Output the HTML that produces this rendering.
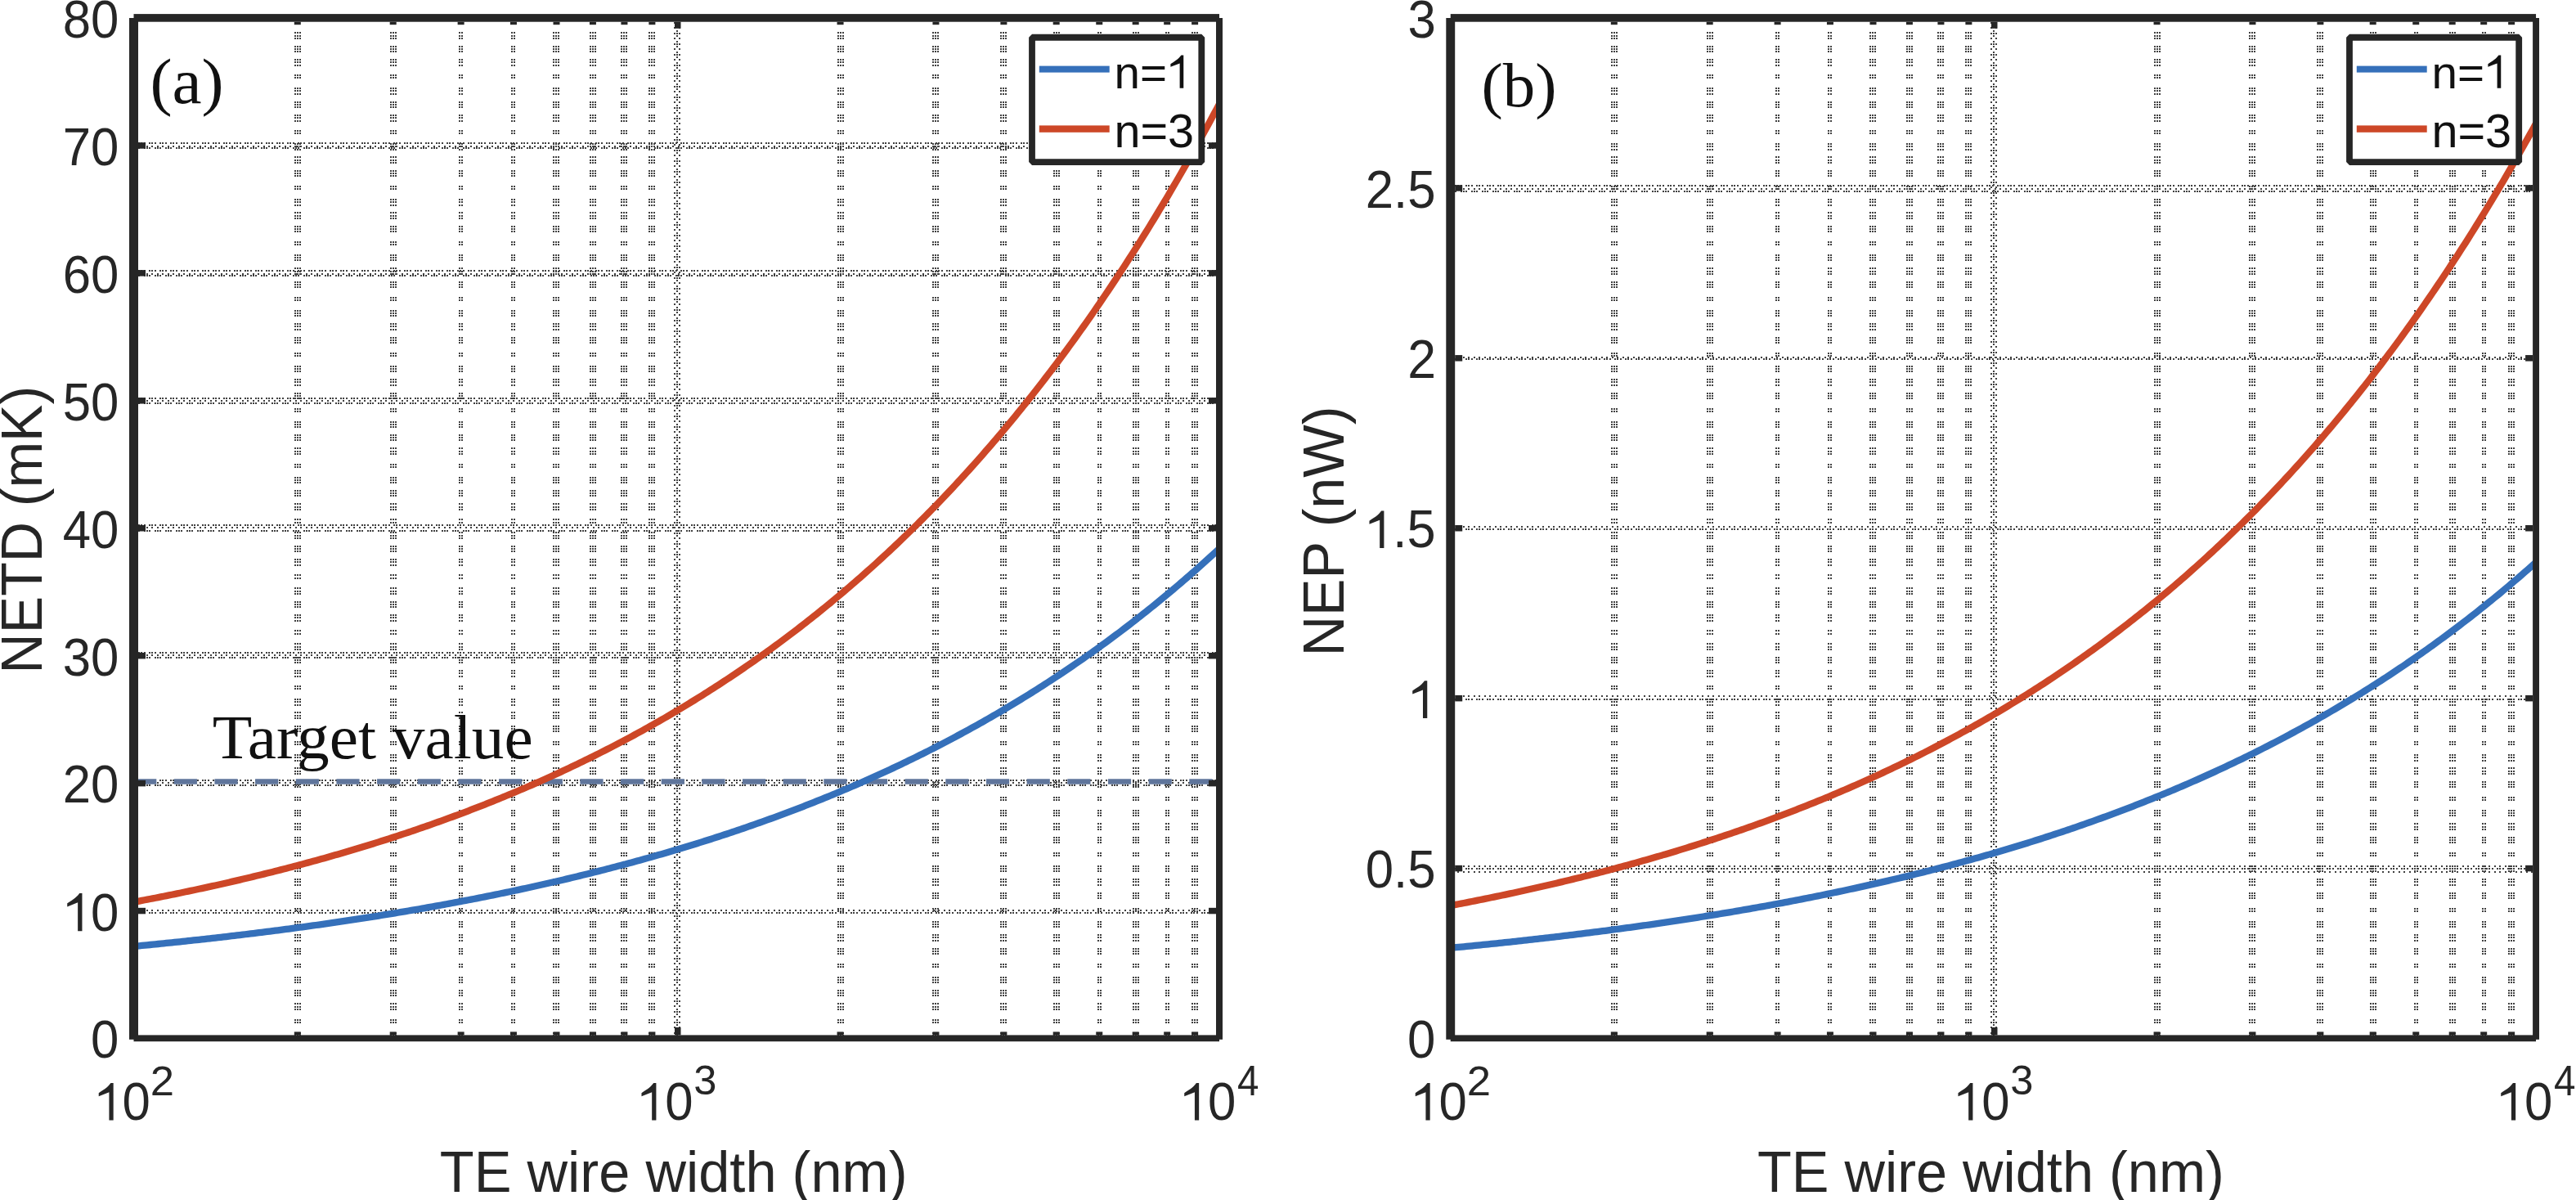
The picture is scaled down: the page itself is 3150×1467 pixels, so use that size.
<!DOCTYPE html>
<html><head><meta charset="utf-8"><style>html,body{margin:0;padding:0;background:#fff;overflow:hidden}svg{display:block}</style></head><body>
<svg width="3150" height="1467" viewBox="0 0 3150 1467">
<rect width="3150" height="1467" fill="#fff"/>
<style>.vm{stroke-dasharray:0 12 2 2 2 1 2 8 2 1 2 1 2 8 2 1 2 2 2 10 2 1 2 11 2 1 2 2 2 8 2 1 2 1 2 8 2 1 2 2 2 10 2 1 2 11 2 1 2 2 2 7 2 2 2 1 2 8 2 1 2 1 2 11 2 1 2 11 2 1 2 2 2 7 2 2 2 1 2 8 2 1 2 1 2 11 2 1 2 11 2 1 2 1 2 8 2 2 2 1 2 8 2 1 2 1 2 11 2 1 2 11 2 1 2 1 2 8 2 1 2 2 2 8 2 1 2 1 2 11 2 1 2 11 2 1 2 1 2 8 2 1 2 2 2 8 2 1 2 1 2 11 2 1 2 11 2 1 2 1 2 8 2 1 2 1 2 8 2 2 2 1 2 11 2 1 2 11 2 1 2 1 2 8 2 1 2 1 2 8 2 2 2 1 2 10 2 2 2 10 2 2 2 1 2 8 2 1 2 1 2 8 2 1 2 2 2 10 2 2 2 10 2 2 2 1 2 8 2 1 2 1 2 8 2 1 2 2 2 10 2 2 2 10 2 2 2 1 2 8 2 1 2 1 2 8 2 1 2 2 2 10 2 1 2 11 2 1 2 2 2 7 2 2 2 1 2 8 2 1 2 1 2 11 2 1 2 11 2 1 2 2 2 7 2 2 2 1 2 8 2 1 2 1 2 11 2 1 2 11 2 1 2 1 2 8 2 2 2 1 2 8 2 1 2 1 2 11 2 1 2 11 2 1 2 1 2 8 2 1 2 2 2 8 2 1 2 1 2 11 2 1 2 11 2 1 2 1 2 8 2 1 2 2 2 8 2 1 2 1 2 11 2 1 2 11 2 1 2 1 2 8 2 1 2 1 2 8 2 2 2 1 2 11 2 1 2 11 2 1 2 0}.vLR{stroke-dasharray:2 4 2 5}.vM{stroke-dasharray:2 1 2 5 2 1}.g{stroke-dasharray:2 1 2 2 2 4}.s{stroke-dasharray:2 5 2 4;stroke-dashoffset:-3}.g2{stroke-dasharray:2 5 2 1 2 1}</style>
<g fill="none" stroke="#404040" stroke-width="2">
<line class="vm" x1="361" y1="27" x2="361" y2="1266"/>
<line class="vm" x1="364" y1="27" x2="364" y2="1266"/>
<line class="vm" x1="367" y1="27" x2="367" y2="1266"/>
<line class="vm" x1="478" y1="27" x2="478" y2="1266"/>
<line class="vm" x1="481" y1="27" x2="481" y2="1266"/>
<line class="vm" x1="484" y1="27" x2="484" y2="1266"/>
<line class="vm" x1="562" y1="27" x2="562" y2="1266"/>
<line class="vm" x1="565" y1="27" x2="565" y2="1266"/>
<line class="vm" x1="626" y1="27" x2="626" y2="1266"/>
<line class="vm" x1="629" y1="27" x2="629" y2="1266"/>
<line class="vm" x1="677" y1="27" x2="677" y2="1266"/>
<line class="vm" x1="680" y1="27" x2="680" y2="1266"/>
<line class="vm" x1="683" y1="27" x2="683" y2="1266"/>
<line class="vm" x1="722" y1="27" x2="722" y2="1266"/>
<line class="vm" x1="725" y1="27" x2="725" y2="1266"/>
<line class="vm" x1="728" y1="27" x2="728" y2="1266"/>
<line class="vm" x1="760" y1="27" x2="760" y2="1266"/>
<line class="vm" x1="763" y1="27" x2="763" y2="1266"/>
<line class="vm" x1="766" y1="27" x2="766" y2="1266"/>
<line class="vm" x1="794" y1="27" x2="794" y2="1266"/>
<line class="vm" x1="797" y1="27" x2="797" y2="1266"/>
<line class="vm" x1="800" y1="27" x2="800" y2="1266"/>
<line class="vm" x1="1025" y1="27" x2="1025" y2="1266"/>
<line class="vm" x1="1028" y1="27" x2="1028" y2="1266"/>
<line class="vm" x1="1031" y1="27" x2="1031" y2="1266"/>
<line class="vm" x1="1141" y1="27" x2="1141" y2="1266"/>
<line class="vm" x1="1144" y1="27" x2="1144" y2="1266"/>
<line class="vm" x1="1147" y1="27" x2="1147" y2="1266"/>
<line class="vm" x1="1224" y1="27" x2="1224" y2="1266"/>
<line class="vm" x1="1227" y1="27" x2="1227" y2="1266"/>
<line class="vm" x1="1230" y1="27" x2="1230" y2="1266"/>
<line class="vm" x1="1289" y1="27" x2="1289" y2="1266"/>
<line class="vm" x1="1292" y1="27" x2="1292" y2="1266"/>
<line class="vm" x1="1295" y1="27" x2="1295" y2="1266"/>
<line class="vm" x1="1343" y1="27" x2="1343" y2="1266"/>
<line class="vm" x1="1346" y1="27" x2="1346" y2="1266"/>
<line class="vm" x1="1386" y1="27" x2="1386" y2="1266"/>
<line class="vm" x1="1389" y1="27" x2="1389" y2="1266"/>
<line class="vm" x1="1392" y1="27" x2="1392" y2="1266"/>
<line class="vm" x1="1426" y1="27" x2="1426" y2="1266"/>
<line class="vm" x1="1429" y1="27" x2="1429" y2="1266"/>
<line class="vm" x1="1458" y1="27" x2="1458" y2="1266"/>
<line class="vm" x1="1461" y1="27" x2="1461" y2="1266"/>
<line class="vm" x1="1464" y1="27" x2="1464" y2="1266"/>
<line class="vLR" x1="825" y1="27" x2="825" y2="1266"/>
<line class="vM" x1="828" y1="27" x2="828" y2="1266"/>
<line class="vLR" x1="831" y1="27" x2="831" y2="1266"/>
<line class="s" x1="169" y1="1113" x2="1488" y2="1113"/>
<line class="g" x1="169" y1="1116" x2="1488" y2="1116"/>
<line class="g" x1="169" y1="954" x2="1488" y2="954"/>
<line class="s" x1="169" y1="957" x2="1488" y2="957"/>
<line class="g2" x1="169" y1="960" x2="1488" y2="960"/>
<line class="g" x1="169" y1="798" x2="1488" y2="798"/>
<line class="s" x1="169" y1="801" x2="1488" y2="801"/>
<line class="g2" x1="169" y1="804" x2="1488" y2="804"/>
<line class="g" x1="169" y1="642" x2="1488" y2="642"/>
<line class="s" x1="169" y1="645" x2="1488" y2="645"/>
<line class="g2" x1="169" y1="649" x2="1488" y2="649"/>
<line class="g" x1="169" y1="487" x2="1488" y2="487"/>
<line class="s" x1="169" y1="490" x2="1488" y2="490"/>
<line class="g2" x1="169" y1="493" x2="1488" y2="493"/>
<line class="g" x1="169" y1="331" x2="1488" y2="331"/>
<line class="s" x1="169" y1="335" x2="1488" y2="335"/>
<line class="g2" x1="169" y1="337" x2="1488" y2="337"/>
<line class="g" x1="169" y1="175" x2="1488" y2="175"/>
<line class="s" x1="169" y1="179" x2="1488" y2="179"/>
<line class="g2" x1="169" y1="181" x2="1488" y2="181"/>
</g>
<line x1="163.1" y1="955.5" x2="1487" y2="955.5" stroke="#5f759b" stroke-width="6.5" stroke-dasharray="28.2 21.46"/>
<polyline points="163.50,1156.94 166.83,1156.62 170.15,1156.30 173.48,1155.98 176.81,1155.66 180.14,1155.33 183.46,1155.00 186.79,1154.67 190.12,1154.34 193.44,1154.00 196.77,1153.67 200.10,1153.33 203.42,1152.99 206.75,1152.65 210.08,1152.31 213.41,1151.96 216.73,1151.61 220.06,1151.26 223.39,1150.91 226.71,1150.56 230.04,1150.20 233.37,1149.85 236.70,1149.49 240.02,1149.12 243.35,1148.76 246.68,1148.39 250.00,1148.03 253.33,1147.66 256.66,1147.28 259.98,1146.91 263.31,1146.53 266.64,1146.16 269.97,1145.77 273.29,1145.39 276.62,1145.01 279.95,1144.62 283.27,1144.23 286.60,1143.84 289.93,1143.44 293.26,1143.05 296.58,1142.65 299.91,1142.25 303.24,1141.85 306.56,1141.44 309.89,1141.03 313.22,1140.62 316.55,1140.21 319.87,1139.80 323.20,1139.38 326.53,1138.96 329.85,1138.54 333.18,1138.11 336.51,1137.69 339.83,1137.26 343.16,1136.83 346.49,1136.39 349.82,1135.96 353.14,1135.52 356.47,1135.08 359.80,1134.63 363.12,1134.18 366.45,1133.74 369.78,1133.28 373.11,1132.83 376.43,1132.37 379.76,1131.91 383.09,1131.45 386.41,1130.99 389.74,1130.52 393.07,1130.05 396.39,1129.58 399.72,1129.10 403.05,1128.62 406.38,1128.14 409.70,1127.66 413.03,1127.17 416.36,1126.68 419.68,1126.19 423.01,1125.70 426.34,1125.20 429.67,1124.70 432.99,1124.20 436.32,1123.69 439.65,1123.18 442.97,1122.67 446.30,1122.15 449.63,1121.64 452.95,1121.11 456.28,1120.59 459.61,1120.06 462.94,1119.53 466.26,1119.00 469.59,1118.47 472.92,1117.93 476.24,1117.39 479.57,1116.84 482.90,1116.29 486.23,1115.74 489.55,1115.19 492.88,1114.63 496.21,1114.07 499.53,1113.50 502.86,1112.94 506.19,1112.37 509.52,1111.79 512.84,1111.22 516.17,1110.64 519.50,1110.05 522.82,1109.46 526.15,1108.87 529.48,1108.28 532.80,1107.68 536.13,1107.08 539.46,1106.48 542.79,1105.87 546.11,1105.26 549.44,1104.65 552.77,1104.03 556.09,1103.41 559.42,1102.78 562.75,1102.15 566.08,1101.52 569.40,1100.89 572.73,1100.25 576.06,1099.60 579.38,1098.96 582.71,1098.31 586.04,1097.65 589.36,1097.00 592.69,1096.33 596.02,1095.67 599.35,1095.00 602.67,1094.33 606.00,1093.65 609.33,1092.97 612.65,1092.29 615.98,1091.60 619.31,1090.90 622.64,1090.21 625.96,1089.51 629.29,1088.80 632.62,1088.10 635.94,1087.38 639.27,1086.67 642.60,1085.95 645.92,1085.22 649.25,1084.49 652.58,1083.76 655.91,1083.02 659.23,1082.28 662.56,1081.54 665.89,1080.79 669.21,1080.03 672.54,1079.27 675.87,1078.51 679.20,1077.74 682.52,1076.97 685.85,1076.20 689.18,1075.42 692.50,1074.63 695.83,1073.84 699.16,1073.05 702.48,1072.25 705.81,1071.45 709.14,1070.64 712.47,1069.83 715.79,1069.01 719.12,1068.19 722.45,1067.36 725.77,1066.53 729.10,1065.70 732.43,1064.86 735.76,1064.01 739.08,1063.16 742.41,1062.31 745.74,1061.45 749.06,1060.58 752.39,1059.71 755.72,1058.84 759.05,1057.96 762.37,1057.08 765.70,1056.19 769.03,1055.29 772.35,1054.39 775.68,1053.49 779.01,1052.58 782.33,1051.66 785.66,1050.74 788.99,1049.82 792.32,1048.88 795.64,1047.95 798.97,1047.01 802.30,1046.06 805.62,1045.11 808.95,1044.15 812.28,1043.19 815.61,1042.22 818.93,1041.24 822.26,1040.26 825.59,1039.28 828.91,1038.29 832.24,1037.29 835.57,1036.29 838.89,1035.28 842.22,1034.26 845.55,1033.24 848.88,1032.22 852.20,1031.19 855.53,1030.15 858.86,1029.11 862.18,1028.06 865.51,1027.00 868.84,1025.94 872.17,1024.87 875.49,1023.80 878.82,1022.72 882.15,1021.64 885.47,1020.54 888.80,1019.45 892.13,1018.34 895.45,1017.23 898.78,1016.11 902.11,1014.99 905.44,1013.86 908.76,1012.72 912.09,1011.58 915.42,1010.43 918.74,1009.27 922.07,1008.11 925.40,1006.94 928.73,1005.77 932.05,1004.58 935.38,1003.40 938.71,1002.20 942.03,1001.00 945.36,999.79 948.69,998.57 952.02,997.35 955.34,996.12 958.67,994.88 962.00,993.63 965.32,992.38 968.65,991.12 971.98,989.86 975.30,988.58 978.63,987.30 981.96,986.01 985.29,984.72 988.61,983.41 991.94,982.10 995.27,980.79 998.59,979.46 1001.92,978.13 1005.25,976.79 1008.58,975.44 1011.90,974.08 1015.23,972.72 1018.56,971.35 1021.88,969.97 1025.21,968.58 1028.54,967.19 1031.86,965.79 1035.19,964.37 1038.52,962.96 1041.85,961.53 1045.17,960.09 1048.50,958.65 1051.83,957.20 1055.15,955.74 1058.48,954.27 1061.81,952.79 1065.14,951.31 1068.46,949.81 1071.79,948.31 1075.12,946.80 1078.44,945.28 1081.77,943.75 1085.10,942.22 1088.42,940.67 1091.75,939.12 1095.08,937.55 1098.41,935.98 1101.73,934.40 1105.06,932.81 1108.39,931.21 1111.71,929.60 1115.04,927.98 1118.37,926.36 1121.70,924.72 1125.02,923.08 1128.35,921.42 1131.68,919.76 1135.00,918.08 1138.33,916.40 1141.66,914.71 1144.98,913.00 1148.31,911.29 1151.64,909.57 1154.97,907.84 1158.29,906.10 1161.62,904.34 1164.95,902.58 1168.27,900.81 1171.60,899.03 1174.93,897.23 1178.26,895.43 1181.58,893.62 1184.91,891.80 1188.24,889.96 1191.56,888.12 1194.89,886.26 1198.22,884.40 1201.55,882.52 1204.87,880.64 1208.20,878.74 1211.53,876.83 1214.85,874.91 1218.18,872.98 1221.51,871.04 1224.83,869.09 1228.16,867.13 1231.49,865.15 1234.82,863.17 1238.14,861.17 1241.47,859.16 1244.80,857.14 1248.12,855.11 1251.45,853.07 1254.78,851.01 1258.11,848.94 1261.43,846.87 1264.76,844.78 1268.09,842.67 1271.41,840.56 1274.74,838.43 1278.07,836.29 1281.39,834.14 1284.72,831.98 1288.05,829.81 1291.38,827.62 1294.70,825.42 1298.03,823.21 1301.36,820.98 1304.68,818.74 1308.01,816.49 1311.34,814.23 1314.67,811.95 1317.99,809.66 1321.32,807.36 1324.65,805.04 1327.97,802.71 1331.30,800.37 1334.63,798.02 1337.95,795.65 1341.28,793.26 1344.61,790.87 1347.94,788.46 1351.26,786.03 1354.59,783.60 1357.92,781.14 1361.24,778.68 1364.57,776.20 1367.90,773.70 1371.23,771.20 1374.55,768.67 1377.88,766.14 1381.21,763.59 1384.53,761.02 1387.86,758.44 1391.19,755.84 1394.52,753.23 1397.84,750.61 1401.17,747.97 1404.50,745.31 1407.82,742.64 1411.15,739.96 1414.48,737.26 1417.80,734.54 1421.13,731.81 1424.46,729.06 1427.79,726.30 1431.11,723.52 1434.44,720.72 1437.77,717.91 1441.09,715.09 1444.42,712.24 1447.75,709.39 1451.08,706.51 1454.40,703.62 1457.73,700.71 1461.06,697.78 1464.38,694.84 1467.71,691.88 1471.04,688.91 1474.36,685.92 1477.69,682.91 1481.02,679.88 1484.35,676.84 1487.67,673.77 1491.00,670.70" fill="none" stroke="#3570ba" stroke-width="8.3" stroke-linejoin="round"/>
<polyline points="163.50,1102.80 166.83,1102.18 170.15,1101.55 173.48,1100.92 176.81,1100.28 180.14,1099.65 183.46,1099.00 186.79,1098.36 190.12,1097.71 193.44,1097.06 196.77,1096.40 200.10,1095.74 203.42,1095.07 206.75,1094.41 210.08,1093.73 213.41,1093.06 216.73,1092.38 220.06,1091.69 223.39,1091.00 226.71,1090.31 230.04,1089.62 233.37,1088.92 236.70,1088.21 240.02,1087.50 243.35,1086.79 246.68,1086.07 250.00,1085.35 253.33,1084.63 256.66,1083.90 259.98,1083.17 263.31,1082.43 266.64,1081.69 269.97,1080.94 273.29,1080.19 276.62,1079.43 279.95,1078.68 283.27,1077.91 286.60,1077.14 289.93,1076.37 293.26,1075.59 296.58,1074.81 299.91,1074.03 303.24,1073.23 306.56,1072.44 309.89,1071.64 313.22,1070.83 316.55,1070.03 319.87,1069.21 323.20,1068.39 326.53,1067.57 329.85,1066.74 333.18,1065.91 336.51,1065.07 339.83,1064.23 343.16,1063.38 346.49,1062.53 349.82,1061.67 353.14,1060.81 356.47,1059.94 359.80,1059.07 363.12,1058.19 366.45,1057.31 369.78,1056.42 373.11,1055.53 376.43,1054.63 379.76,1053.72 383.09,1052.81 386.41,1051.90 389.74,1050.98 393.07,1050.06 396.39,1049.13 399.72,1048.19 403.05,1047.25 406.38,1046.30 409.70,1045.35 413.03,1044.39 416.36,1043.43 419.68,1042.46 423.01,1041.49 426.34,1040.51 429.67,1039.52 432.99,1038.53 436.32,1037.54 439.65,1036.53 442.97,1035.52 446.30,1034.51 449.63,1033.49 452.95,1032.46 456.28,1031.43 459.61,1030.39 462.94,1029.35 466.26,1028.30 469.59,1027.24 472.92,1026.18 476.24,1025.11 479.57,1024.04 482.90,1022.95 486.23,1021.87 489.55,1020.77 492.88,1019.67 496.21,1018.57 499.53,1017.45 502.86,1016.33 506.19,1015.21 509.52,1014.07 512.84,1012.94 516.17,1011.79 519.50,1010.64 522.82,1009.48 526.15,1008.31 529.48,1007.14 532.80,1005.96 536.13,1004.77 539.46,1003.58 542.79,1002.38 546.11,1001.17 549.44,999.96 552.77,998.74 556.09,997.51 559.42,996.28 562.75,995.03 566.08,993.78 569.40,992.53 572.73,991.26 576.06,989.99 579.38,988.71 582.71,987.42 586.04,986.13 589.36,984.83 592.69,983.52 596.02,982.20 599.35,980.88 602.67,979.55 606.00,978.21 609.33,976.86 612.65,975.50 615.98,974.14 619.31,972.77 622.64,971.39 625.96,970.00 629.29,968.61 632.62,967.21 635.94,965.79 639.27,964.37 642.60,962.95 645.92,961.51 649.25,960.07 652.58,958.61 655.91,957.15 659.23,955.68 662.56,954.20 665.89,952.72 669.21,951.22 672.54,949.72 675.87,948.20 679.20,946.68 682.52,945.15 685.85,943.61 689.18,942.06 692.50,940.50 695.83,938.94 699.16,937.36 702.48,935.78 705.81,934.18 709.14,932.58 712.47,930.97 715.79,929.35 719.12,927.71 722.45,926.07 725.77,924.42 729.10,922.76 732.43,921.09 735.76,919.41 739.08,917.72 742.41,916.03 745.74,914.32 749.06,912.60 752.39,910.87 755.72,909.13 759.05,907.38 762.37,905.62 765.70,903.85 769.03,902.07 772.35,900.28 775.68,898.48 779.01,896.67 782.33,894.85 785.66,893.02 788.99,891.18 792.32,889.32 795.64,887.46 798.97,885.58 802.30,883.70 805.62,881.80 808.95,879.89 812.28,877.98 815.61,876.05 818.93,874.10 822.26,872.15 825.59,870.19 828.91,868.21 832.24,866.23 835.57,864.23 838.89,862.22 842.22,860.20 845.55,858.16 848.88,856.12 852.20,854.06 855.53,851.99 858.86,849.91 862.18,847.82 865.51,845.71 868.84,843.60 872.17,841.47 875.49,839.32 878.82,837.17 882.15,835.00 885.47,832.82 888.80,830.63 892.13,828.43 895.45,826.21 898.78,823.98 902.11,821.73 905.44,819.48 908.76,817.21 912.09,814.92 915.42,812.63 918.74,810.32 922.07,808.00 925.40,805.66 928.73,803.31 932.05,800.95 935.38,798.57 938.71,796.18 942.03,793.77 945.36,791.35 948.69,788.92 952.02,786.47 955.34,784.01 958.67,781.53 962.00,779.04 965.32,776.54 968.65,774.02 971.98,771.49 975.30,768.94 978.63,766.37 981.96,763.79 985.29,761.20 988.61,758.59 991.94,755.97 995.27,753.33 998.59,750.68 1001.92,748.01 1005.25,745.32 1008.58,742.62 1011.90,739.90 1015.23,737.17 1018.56,734.42 1021.88,731.66 1025.21,728.88 1028.54,726.08 1031.86,723.27 1035.19,720.44 1038.52,717.60 1041.85,714.73 1045.17,711.86 1048.50,708.96 1051.83,706.05 1055.15,703.12 1058.48,700.17 1061.81,697.21 1065.14,694.23 1068.46,691.23 1071.79,688.22 1075.12,685.19 1078.44,682.14 1081.77,679.07 1085.10,675.98 1088.42,672.88 1091.75,669.76 1095.08,666.62 1098.41,663.46 1101.73,660.28 1105.06,657.09 1108.39,653.87 1111.71,650.64 1115.04,647.39 1118.37,644.12 1121.70,640.83 1125.02,637.52 1128.35,634.20 1131.68,630.85 1135.00,627.49 1138.33,624.10 1141.66,620.69 1144.98,617.27 1148.31,613.83 1151.64,610.36 1154.97,606.88 1158.29,603.37 1161.62,599.84 1164.95,596.30 1168.27,592.73 1171.60,589.14 1174.93,585.54 1178.26,581.91 1181.58,578.26 1184.91,574.59 1188.24,570.89 1191.56,567.18 1194.89,563.44 1198.22,559.68 1201.55,555.91 1204.87,552.10 1208.20,548.28 1211.53,544.43 1214.85,540.57 1218.18,536.68 1221.51,532.76 1224.83,528.83 1228.16,524.87 1231.49,520.89 1234.82,516.88 1238.14,512.85 1241.47,508.80 1244.80,504.73 1248.12,500.63 1251.45,496.51 1254.78,492.36 1258.11,488.19 1261.43,483.99 1264.76,479.78 1268.09,475.53 1271.41,471.26 1274.74,466.97 1278.07,462.65 1281.39,458.31 1284.72,453.94 1288.05,449.55 1291.38,445.13 1294.70,440.68 1298.03,436.21 1301.36,431.71 1304.68,427.19 1308.01,422.64 1311.34,418.07 1314.67,413.46 1317.99,408.83 1321.32,404.18 1324.65,399.50 1327.97,394.79 1331.30,390.05 1334.63,385.28 1337.95,380.49 1341.28,375.67 1344.61,370.82 1347.94,365.94 1351.26,361.04 1354.59,356.11 1357.92,351.14 1361.24,346.15 1364.57,341.13 1367.90,336.08 1371.23,331.00 1374.55,325.90 1377.88,320.76 1381.21,315.59 1384.53,310.39 1387.86,305.16 1391.19,299.91 1394.52,294.62 1397.84,289.30 1401.17,283.95 1404.50,278.57 1407.82,273.15 1411.15,267.71 1414.48,262.23 1417.80,256.72 1421.13,251.18 1424.46,245.61 1427.79,240.01 1431.11,234.37 1434.44,228.70 1437.77,223.00 1441.09,217.26 1444.42,211.49 1447.75,205.69 1451.08,199.86 1454.40,193.99 1457.73,188.08 1461.06,182.14 1464.38,176.17 1467.71,170.16 1471.04,164.12 1474.36,158.04 1477.69,151.93 1481.02,145.78 1484.35,139.59 1487.67,133.37 1491.00,127.12" fill="none" stroke="#cd4727" stroke-width="8.3" stroke-linejoin="round"/>
<rect x="158" y="22" width="11.0" height="1248.8" fill="#262626"/>
<rect x="1487" y="22" width="8.0" height="1248.8" fill="#262626"/>
<rect x="163.50" y="17.1" width="1327.50" height="9.6" fill="#262626"/>
<rect x="163.50" y="1265.4" width="1327.50" height="7.8" fill="#262626"/>
<rect x="169" y="1109.81" width="9" height="7.5" fill="#262626"/>
<rect x="1478" y="1109.81" width="9" height="7.5" fill="#262626"/>
<rect x="169" y="953.88" width="9" height="7.5" fill="#262626"/>
<rect x="1478" y="953.88" width="9" height="7.5" fill="#262626"/>
<rect x="169" y="797.94" width="9" height="7.5" fill="#262626"/>
<rect x="1478" y="797.94" width="9" height="7.5" fill="#262626"/>
<rect x="169" y="642.00" width="9" height="7.5" fill="#262626"/>
<rect x="1478" y="642.00" width="9" height="7.5" fill="#262626"/>
<rect x="169" y="486.06" width="9" height="7.5" fill="#262626"/>
<rect x="1478" y="486.06" width="9" height="7.5" fill="#262626"/>
<rect x="169" y="330.12" width="9" height="7.5" fill="#262626"/>
<rect x="1478" y="330.12" width="9" height="7.5" fill="#262626"/>
<rect x="169" y="174.19" width="9" height="7.5" fill="#262626"/>
<rect x="1478" y="174.19" width="9" height="7.5" fill="#262626"/>
<rect x="359.81" y="1261.4" width="8" height="4" fill="#262626"/>
<rect x="359.81" y="26.7" width="8" height="3.5" fill="#262626"/>
<rect x="476.69" y="1261.4" width="8" height="4" fill="#262626"/>
<rect x="476.69" y="26.7" width="8" height="3.5" fill="#262626"/>
<rect x="559.62" y="1261.4" width="8" height="4" fill="#262626"/>
<rect x="559.62" y="26.7" width="8" height="3.5" fill="#262626"/>
<rect x="623.94" y="1261.4" width="8" height="4" fill="#262626"/>
<rect x="623.94" y="26.7" width="8" height="3.5" fill="#262626"/>
<rect x="676.50" y="1261.4" width="8" height="4" fill="#262626"/>
<rect x="676.50" y="26.7" width="8" height="3.5" fill="#262626"/>
<rect x="720.93" y="1261.4" width="8" height="4" fill="#262626"/>
<rect x="720.93" y="26.7" width="8" height="3.5" fill="#262626"/>
<rect x="759.43" y="1261.4" width="8" height="4" fill="#262626"/>
<rect x="759.43" y="26.7" width="8" height="3.5" fill="#262626"/>
<rect x="793.38" y="1261.4" width="8" height="4" fill="#262626"/>
<rect x="793.38" y="26.7" width="8" height="3.5" fill="#262626"/>
<rect x="1023.56" y="1261.4" width="8" height="4" fill="#262626"/>
<rect x="1023.56" y="26.7" width="8" height="3.5" fill="#262626"/>
<rect x="1140.44" y="1261.4" width="8" height="4" fill="#262626"/>
<rect x="1140.44" y="26.7" width="8" height="3.5" fill="#262626"/>
<rect x="1223.37" y="1261.4" width="8" height="4" fill="#262626"/>
<rect x="1223.37" y="26.7" width="8" height="3.5" fill="#262626"/>
<rect x="1287.69" y="1261.4" width="8" height="4" fill="#262626"/>
<rect x="1287.69" y="26.7" width="8" height="3.5" fill="#262626"/>
<rect x="1340.25" y="1261.4" width="8" height="4" fill="#262626"/>
<rect x="1340.25" y="26.7" width="8" height="3.5" fill="#262626"/>
<rect x="1384.68" y="1261.4" width="8" height="4" fill="#262626"/>
<rect x="1384.68" y="26.7" width="8" height="3.5" fill="#262626"/>
<rect x="1423.18" y="1261.4" width="8" height="4" fill="#262626"/>
<rect x="1423.18" y="26.7" width="8" height="3.5" fill="#262626"/>
<rect x="1457.13" y="1261.4" width="8" height="4" fill="#262626"/>
<rect x="1457.13" y="26.7" width="8" height="3.5" fill="#262626"/>
<rect x="825.00" y="1255.9" width="7.5" height="9.5" fill="#262626"/>
<rect x="825.00" y="26.7" width="7.5" height="8.1" fill="#262626"/>
<rect x="1262.00" y="45.75" width="207.30" height="152.3" fill="#fff" stroke="#262626" stroke-width="7.8" stroke-linejoin="bevel"/>
<rect x="1270.80" y="80.6" width="85.9" height="8" fill="#3570ba"/>
<rect x="1270.80" y="153.4" width="85.9" height="8.4" fill="#cd4727"/>
<text transform="translate(1362.52,107.75) scale(1.0320,1)" font-family="Liberation Sans" font-size="54.83" fill="#111">n=</text>
<path transform="translate(1431.19,67.50) scale(40.250,40.250)" fill="#111" d="M0.399,0V1H0.284V0.246L0.005,0.355V0.268C0.1,0.2 0.24,0.13 0.328,0Z"/>
<text transform="translate(1362.45,179.77) scale(0.9983,1)" font-family="Liberation Sans" font-size="57.70" fill="#111">n=3</text>
<text transform="translate(111.09,1293.35) scale(0.9500,1)" font-family="Liberation Sans" font-size="64.97" fill="#262626">0</text>
<path transform="translate(82.00,1091.96) scale(46.250,46.250)" fill="#262626" d="M0.399,0V1H0.284V0.246L0.005,0.355V0.268C0.1,0.2 0.24,0.13 0.328,0Z"/>
<text transform="translate(111.09,1137.51) scale(0.9458,1)" font-family="Liberation Sans" font-size="65.25" fill="#262626">0</text>
<text transform="translate(76.77,981.48) scale(0.9500,1)" font-family="Liberation Sans" font-size="64.97" fill="#262626">20</text>
<text transform="translate(76.77,825.54) scale(0.9500,1)" font-family="Liberation Sans" font-size="64.97" fill="#262626">30</text>
<text transform="translate(76.77,669.60) scale(0.9500,1)" font-family="Liberation Sans" font-size="64.97" fill="#262626">40</text>
<text transform="translate(76.77,513.66) scale(0.9500,1)" font-family="Liberation Sans" font-size="64.97" fill="#262626">50</text>
<text transform="translate(76.77,357.73) scale(0.9500,1)" font-family="Liberation Sans" font-size="64.97" fill="#262626">60</text>
<text transform="translate(76.77,201.79) scale(0.9500,1)" font-family="Liberation Sans" font-size="64.97" fill="#262626">70</text>
<text transform="translate(76.77,45.85) scale(0.9500,1)" font-family="Liberation Sans" font-size="64.97" fill="#262626">80</text>
<path transform="translate(120.50,1324.00) scale(45.500,45.500)" fill="#262626" d="M0.399,0V1H0.284V0.246L0.005,0.355V0.268C0.1,0.2 0.24,0.13 0.328,0Z"/>
<text transform="translate(149.59,1368.86) scale(0.9603,1)" font-family="Liberation Sans" font-size="64.27" fill="#262626">0</text>
<text transform="translate(183.87,1338.50) scale(1.0348,1)" font-family="Liberation Sans" font-size="50.86" fill="#262626">2</text>
<path transform="translate(784.25,1324.00) scale(45.500,45.500)" fill="#262626" d="M0.399,0V1H0.284V0.246L0.005,0.355V0.268C0.1,0.2 0.24,0.13 0.328,0Z"/>
<text transform="translate(813.34,1368.86) scale(0.9603,1)" font-family="Liberation Sans" font-size="64.27" fill="#262626">0</text>
<text transform="translate(848.33,1338.00) scale(1.0098,1)" font-family="Liberation Sans" font-size="50.14" fill="#262626">3</text>
<path transform="translate(1448.00,1324.00) scale(45.500,45.500)" fill="#262626" d="M0.399,0V1H0.284V0.246L0.005,0.355V0.268C0.1,0.2 0.24,0.13 0.328,0Z"/>
<text transform="translate(1477.09,1368.86) scale(0.9603,1)" font-family="Liberation Sans" font-size="64.27" fill="#262626">0</text>
<text transform="translate(1512.90,1338.50) scale(0.9229,1)" font-family="Liberation Sans" font-size="51.60" fill="#262626">4</text>
<text transform="translate(537.79,1457.10) scale(0.9736,1)" font-family="Liberation Sans" font-size="70.49" fill="#262626">TE wire width (nm)</text>
<text transform="translate(50.50,823.38) rotate(-90) scale(0.9655,1)" font-family="Liberation Sans" font-size="70.49" fill="#262626">NETD (mK)</text>
<g fill="none" stroke="#404040" stroke-width="2">
<line class="vm" x1="1971" y1="27" x2="1971" y2="1266"/>
<line class="vm" x1="1974" y1="27" x2="1974" y2="1266"/>
<line class="vm" x1="1977" y1="27" x2="1977" y2="1266"/>
<line class="vm" x1="2088" y1="27" x2="2088" y2="1266"/>
<line class="vm" x1="2091" y1="27" x2="2091" y2="1266"/>
<line class="vm" x1="2094" y1="27" x2="2094" y2="1266"/>
<line class="vm" x1="2172" y1="27" x2="2172" y2="1266"/>
<line class="vm" x1="2175" y1="27" x2="2175" y2="1266"/>
<line class="vm" x1="2236" y1="27" x2="2236" y2="1266"/>
<line class="vm" x1="2239" y1="27" x2="2239" y2="1266"/>
<line class="vm" x1="2287" y1="27" x2="2287" y2="1266"/>
<line class="vm" x1="2290" y1="27" x2="2290" y2="1266"/>
<line class="vm" x1="2293" y1="27" x2="2293" y2="1266"/>
<line class="vm" x1="2332" y1="27" x2="2332" y2="1266"/>
<line class="vm" x1="2335" y1="27" x2="2335" y2="1266"/>
<line class="vm" x1="2338" y1="27" x2="2338" y2="1266"/>
<line class="vm" x1="2370" y1="27" x2="2370" y2="1266"/>
<line class="vm" x1="2373" y1="27" x2="2373" y2="1266"/>
<line class="vm" x1="2376" y1="27" x2="2376" y2="1266"/>
<line class="vm" x1="2404" y1="27" x2="2404" y2="1266"/>
<line class="vm" x1="2407" y1="27" x2="2407" y2="1266"/>
<line class="vm" x1="2410" y1="27" x2="2410" y2="1266"/>
<line class="vm" x1="2635" y1="27" x2="2635" y2="1266"/>
<line class="vm" x1="2638" y1="27" x2="2638" y2="1266"/>
<line class="vm" x1="2641" y1="27" x2="2641" y2="1266"/>
<line class="vm" x1="2751" y1="27" x2="2751" y2="1266"/>
<line class="vm" x1="2754" y1="27" x2="2754" y2="1266"/>
<line class="vm" x1="2757" y1="27" x2="2757" y2="1266"/>
<line class="vm" x1="2834" y1="27" x2="2834" y2="1266"/>
<line class="vm" x1="2837" y1="27" x2="2837" y2="1266"/>
<line class="vm" x1="2840" y1="27" x2="2840" y2="1266"/>
<line class="vm" x1="2899" y1="27" x2="2899" y2="1266"/>
<line class="vm" x1="2902" y1="27" x2="2902" y2="1266"/>
<line class="vm" x1="2905" y1="27" x2="2905" y2="1266"/>
<line class="vm" x1="2953" y1="27" x2="2953" y2="1266"/>
<line class="vm" x1="2956" y1="27" x2="2956" y2="1266"/>
<line class="vm" x1="2996" y1="27" x2="2996" y2="1266"/>
<line class="vm" x1="2999" y1="27" x2="2999" y2="1266"/>
<line class="vm" x1="3002" y1="27" x2="3002" y2="1266"/>
<line class="vm" x1="3036" y1="27" x2="3036" y2="1266"/>
<line class="vm" x1="3039" y1="27" x2="3039" y2="1266"/>
<line class="vm" x1="3068" y1="27" x2="3068" y2="1266"/>
<line class="vm" x1="3071" y1="27" x2="3071" y2="1266"/>
<line class="vm" x1="3074" y1="27" x2="3074" y2="1266"/>
<line class="vLR" x1="2435" y1="27" x2="2435" y2="1266"/>
<line class="vM" x1="2438" y1="27" x2="2438" y2="1266"/>
<line class="vLR" x1="2441" y1="27" x2="2441" y2="1266"/>
<line class="s" x1="1779" y1="1059" x2="3098" y2="1059"/>
<line class="g" x1="1779" y1="1062" x2="3098" y2="1062"/>
<line class="s" x1="1779" y1="1066" x2="3098" y2="1066"/>
<line class="s" x1="1779" y1="851" x2="3098" y2="851"/>
<line class="g" x1="1779" y1="855" x2="3098" y2="855"/>
<line class="s" x1="1779" y1="644" x2="3098" y2="644"/>
<line class="g" x1="1779" y1="647" x2="3098" y2="647"/>
<line class="s" x1="1779" y1="437" x2="3098" y2="437"/>
<line class="g" x1="1779" y1="439" x2="3098" y2="439"/>
<line class="g" x1="1779" y1="227" x2="3098" y2="227"/>
<line class="s" x1="1779" y1="231" x2="3098" y2="231"/>
<line class="g2" x1="1779" y1="234" x2="3098" y2="234"/>
</g>
<polyline points="1773.50,1158.86 1776.83,1158.55 1780.15,1158.23 1783.48,1157.91 1786.81,1157.59 1790.14,1157.27 1793.46,1156.95 1796.79,1156.62 1800.12,1156.29 1803.44,1155.96 1806.77,1155.63 1810.10,1155.30 1813.42,1154.96 1816.75,1154.63 1820.08,1154.29 1823.41,1153.95 1826.73,1153.60 1830.06,1153.26 1833.39,1152.91 1836.71,1152.57 1840.04,1152.22 1843.37,1151.86 1846.70,1151.51 1850.02,1151.15 1853.35,1150.79 1856.68,1150.43 1860.00,1150.07 1863.33,1149.71 1866.66,1149.34 1869.98,1148.97 1873.31,1148.60 1876.64,1148.23 1879.97,1147.85 1883.29,1147.48 1886.62,1147.10 1889.95,1146.72 1893.27,1146.33 1896.60,1145.95 1899.93,1145.56 1903.26,1145.17 1906.58,1144.78 1909.91,1144.38 1913.24,1143.99 1916.56,1143.59 1919.89,1143.19 1923.22,1142.78 1926.55,1142.38 1929.87,1141.97 1933.20,1141.56 1936.53,1141.15 1939.85,1140.73 1943.18,1140.32 1946.51,1139.90 1949.83,1139.47 1953.16,1139.05 1956.49,1138.62 1959.82,1138.19 1963.14,1137.76 1966.47,1137.33 1969.80,1136.89 1973.12,1136.45 1976.45,1136.01 1979.78,1135.57 1983.11,1135.12 1986.43,1134.67 1989.76,1134.22 1993.09,1133.77 1996.41,1133.31 1999.74,1132.85 2003.07,1132.39 2006.39,1131.93 2009.72,1131.46 2013.05,1130.99 2016.38,1130.52 2019.70,1130.04 2023.03,1129.57 2026.36,1129.09 2029.68,1128.60 2033.01,1128.12 2036.34,1127.63 2039.67,1127.14 2042.99,1126.64 2046.32,1126.15 2049.65,1125.65 2052.97,1125.14 2056.30,1124.64 2059.63,1124.13 2062.95,1123.62 2066.28,1123.11 2069.61,1122.59 2072.94,1122.07 2076.26,1121.55 2079.59,1121.02 2082.92,1120.49 2086.24,1119.96 2089.57,1119.43 2092.90,1118.89 2096.23,1118.35 2099.55,1117.81 2102.88,1117.26 2106.21,1116.71 2109.53,1116.16 2112.86,1115.60 2116.19,1115.04 2119.52,1114.48 2122.84,1113.92 2126.17,1113.35 2129.50,1112.77 2132.82,1112.20 2136.15,1111.62 2139.48,1111.04 2142.80,1110.46 2146.13,1109.87 2149.46,1109.28 2152.79,1108.68 2156.11,1108.08 2159.44,1107.48 2162.77,1106.88 2166.09,1106.27 2169.42,1105.66 2172.75,1105.04 2176.08,1104.42 2179.40,1103.80 2182.73,1103.17 2186.06,1102.55 2189.38,1101.91 2192.71,1101.28 2196.04,1100.64 2199.36,1099.99 2202.69,1099.35 2206.02,1098.69 2209.35,1098.04 2212.67,1097.38 2216.00,1096.72 2219.33,1096.05 2222.65,1095.38 2225.98,1094.71 2229.31,1094.03 2232.64,1093.35 2235.96,1092.67 2239.29,1091.98 2242.62,1091.29 2245.94,1090.59 2249.27,1089.89 2252.60,1089.19 2255.92,1088.48 2259.25,1087.77 2262.58,1087.05 2265.91,1086.33 2269.23,1085.61 2272.56,1084.88 2275.89,1084.15 2279.21,1083.41 2282.54,1082.67 2285.87,1081.92 2289.20,1081.17 2292.52,1080.42 2295.85,1079.66 2299.18,1078.90 2302.50,1078.13 2305.83,1077.36 2309.16,1076.59 2312.48,1075.81 2315.81,1075.03 2319.14,1074.24 2322.47,1073.44 2325.79,1072.65 2329.12,1071.85 2332.45,1071.04 2335.77,1070.23 2339.10,1069.41 2342.43,1068.59 2345.76,1067.77 2349.08,1066.94 2352.41,1066.11 2355.74,1065.27 2359.06,1064.43 2362.39,1063.58 2365.72,1062.72 2369.05,1061.87 2372.37,1061.00 2375.70,1060.14 2379.03,1059.26 2382.35,1058.39 2385.68,1057.51 2389.01,1056.62 2392.33,1055.73 2395.66,1054.83 2398.99,1053.93 2402.32,1053.02 2405.64,1052.11 2408.97,1051.19 2412.30,1050.27 2415.62,1049.34 2418.95,1048.41 2422.28,1047.47 2425.61,1046.52 2428.93,1045.57 2432.26,1044.62 2435.59,1043.66 2438.91,1042.69 2442.24,1041.72 2445.57,1040.75 2448.89,1039.77 2452.22,1038.78 2455.55,1037.79 2458.88,1036.79 2462.20,1035.78 2465.53,1034.77 2468.86,1033.76 2472.18,1032.74 2475.51,1031.71 2478.84,1030.68 2482.17,1029.64 2485.49,1028.59 2488.82,1027.54 2492.15,1026.49 2495.47,1025.43 2498.80,1024.36 2502.13,1023.28 2505.45,1022.20 2508.78,1021.12 2512.11,1020.02 2515.44,1018.93 2518.76,1017.82 2522.09,1016.71 2525.42,1015.59 2528.74,1014.47 2532.07,1013.34 2535.40,1012.20 2538.73,1011.06 2542.05,1009.91 2545.38,1008.75 2548.71,1007.59 2552.03,1006.42 2555.36,1005.25 2558.69,1004.06 2562.02,1002.88 2565.34,1001.68 2568.67,1000.48 2572.00,999.27 2575.32,998.05 2578.65,996.83 2581.98,995.60 2585.30,994.36 2588.63,993.12 2591.96,991.87 2595.29,990.61 2598.61,989.35 2601.94,988.08 2605.27,986.80 2608.59,985.51 2611.92,984.22 2615.25,982.92 2618.58,981.61 2621.90,980.29 2625.23,978.97 2628.56,977.64 2631.88,976.30 2635.21,974.95 2638.54,973.60 2641.86,972.24 2645.19,970.87 2648.52,969.50 2651.85,968.11 2655.17,966.72 2658.50,965.32 2661.83,963.91 2665.15,962.50 2668.48,961.07 2671.81,959.64 2675.14,958.20 2678.46,956.76 2681.79,955.30 2685.12,953.83 2688.44,952.36 2691.77,950.88 2695.10,949.39 2698.42,947.90 2701.75,946.39 2705.08,944.87 2708.41,943.35 2711.73,941.82 2715.06,940.28 2718.39,938.73 2721.71,937.17 2725.04,935.61 2728.37,934.03 2731.70,932.45 2735.02,930.85 2738.35,929.25 2741.68,927.64 2745.00,926.02 2748.33,924.39 2751.66,922.75 2754.98,921.10 2758.31,919.45 2761.64,917.78 2764.97,916.10 2768.29,914.42 2771.62,912.72 2774.95,911.02 2778.27,909.31 2781.60,907.58 2784.93,905.85 2788.26,904.10 2791.58,902.35 2794.91,900.59 2798.24,898.81 2801.56,897.03 2804.89,895.24 2808.22,893.44 2811.55,891.62 2814.87,889.80 2818.20,887.96 2821.53,886.12 2824.85,884.27 2828.18,882.40 2831.51,880.52 2834.83,878.64 2838.16,876.74 2841.49,874.83 2844.82,872.91 2848.14,870.99 2851.47,869.04 2854.80,867.09 2858.12,865.13 2861.45,863.16 2864.78,861.17 2868.11,859.18 2871.43,857.17 2874.76,855.15 2878.09,853.12 2881.41,851.08 2884.74,849.03 2888.07,846.97 2891.39,844.89 2894.72,842.80 2898.05,840.70 2901.38,838.59 2904.70,836.47 2908.03,834.33 2911.36,832.19 2914.68,830.03 2918.01,827.86 2921.34,825.67 2924.67,823.48 2927.99,821.27 2931.32,819.05 2934.65,816.81 2937.97,814.57 2941.30,812.31 2944.63,810.04 2947.95,807.75 2951.28,805.46 2954.61,803.14 2957.94,800.82 2961.26,798.49 2964.59,796.14 2967.92,793.77 2971.24,791.40 2974.57,789.01 2977.90,786.60 2981.23,784.19 2984.55,781.76 2987.88,779.31 2991.21,776.86 2994.53,774.38 2997.86,771.90 3001.19,769.40 3004.52,766.88 3007.84,764.36 3011.17,761.81 3014.50,759.26 3017.82,756.69 3021.15,754.10 3024.48,751.50 3027.80,748.89 3031.13,746.26 3034.46,743.61 3037.79,740.95 3041.11,738.28 3044.44,735.59 3047.77,732.88 3051.09,730.16 3054.42,727.43 3057.75,724.68 3061.08,721.91 3064.40,719.13 3067.73,716.33 3071.06,713.52 3074.38,710.69 3077.71,707.84 3081.04,704.98 3084.36,702.10 3087.69,699.21 3091.02,696.30 3094.35,693.37 3097.67,690.43 3101.00,687.47" fill="none" stroke="#3570ba" stroke-width="8.3" stroke-linejoin="round"/>
<polyline points="1773.50,1107.16 1776.83,1106.53 1780.15,1105.89 1783.48,1105.25 1786.81,1104.61 1790.14,1103.97 1793.46,1103.32 1796.79,1102.66 1800.12,1102.01 1803.44,1101.34 1806.77,1100.68 1810.10,1100.01 1813.42,1099.34 1816.75,1098.66 1820.08,1097.98 1823.41,1097.30 1826.73,1096.61 1830.06,1095.92 1833.39,1095.23 1836.71,1094.53 1840.04,1093.82 1843.37,1093.12 1846.70,1092.40 1850.02,1091.69 1853.35,1090.97 1856.68,1090.25 1860.00,1089.52 1863.33,1088.79 1866.66,1088.05 1869.98,1087.31 1873.31,1086.57 1876.64,1085.82 1879.97,1085.07 1883.29,1084.31 1886.62,1083.55 1889.95,1082.78 1893.27,1082.01 1896.60,1081.24 1899.93,1080.46 1903.26,1079.67 1906.58,1078.89 1909.91,1078.09 1913.24,1077.30 1916.56,1076.50 1919.89,1075.69 1923.22,1074.88 1926.55,1074.07 1929.87,1073.25 1933.20,1072.42 1936.53,1071.59 1939.85,1070.76 1943.18,1069.92 1946.51,1069.08 1949.83,1068.23 1953.16,1067.38 1956.49,1066.52 1959.82,1065.66 1963.14,1064.79 1966.47,1063.92 1969.80,1063.04 1973.12,1062.16 1976.45,1061.27 1979.78,1060.38 1983.11,1059.48 1986.43,1058.58 1989.76,1057.67 1993.09,1056.75 1996.41,1055.84 1999.74,1054.91 2003.07,1053.98 2006.39,1053.05 2009.72,1052.11 2013.05,1051.17 2016.38,1050.22 2019.70,1049.26 2023.03,1048.30 2026.36,1047.33 2029.68,1046.36 2033.01,1045.39 2036.34,1044.40 2039.67,1043.41 2042.99,1042.42 2046.32,1041.42 2049.65,1040.42 2052.97,1039.40 2056.30,1038.39 2059.63,1037.37 2062.95,1036.34 2066.28,1035.30 2069.61,1034.26 2072.94,1033.22 2076.26,1032.16 2079.59,1031.11 2082.92,1030.04 2086.24,1028.97 2089.57,1027.90 2092.90,1026.81 2096.23,1025.73 2099.55,1024.63 2102.88,1023.53 2106.21,1022.42 2109.53,1021.31 2112.86,1020.19 2116.19,1019.06 2119.52,1017.93 2122.84,1016.79 2126.17,1015.65 2129.50,1014.50 2132.82,1013.34 2136.15,1012.17 2139.48,1011.00 2142.80,1009.82 2146.13,1008.64 2149.46,1007.44 2152.79,1006.25 2156.11,1005.04 2159.44,1003.83 2162.77,1002.61 2166.09,1001.38 2169.42,1000.15 2172.75,998.91 2176.08,997.66 2179.40,996.41 2182.73,995.15 2186.06,993.88 2189.38,992.60 2192.71,991.32 2196.04,990.03 2199.36,988.73 2202.69,987.43 2206.02,986.11 2209.35,984.79 2212.67,983.47 2216.00,982.13 2219.33,980.79 2222.65,979.44 2225.98,978.08 2229.31,976.72 2232.64,975.34 2235.96,973.96 2239.29,972.57 2242.62,971.18 2245.94,969.77 2249.27,968.36 2252.60,966.94 2255.92,965.51 2259.25,964.07 2262.58,962.63 2265.91,961.17 2269.23,959.71 2272.56,958.24 2275.89,956.76 2279.21,955.27 2282.54,953.78 2285.87,952.28 2289.20,950.76 2292.52,949.24 2295.85,947.71 2299.18,946.17 2302.50,944.63 2305.83,943.07 2309.16,941.51 2312.48,939.93 2315.81,938.35 2319.14,936.76 2322.47,935.16 2325.79,933.55 2329.12,931.93 2332.45,930.30 2335.77,928.66 2339.10,927.02 2342.43,925.36 2345.76,923.70 2349.08,922.02 2352.41,920.34 2355.74,918.64 2359.06,916.94 2362.39,915.23 2365.72,913.50 2369.05,911.77 2372.37,910.03 2375.70,908.27 2379.03,906.51 2382.35,904.74 2385.68,902.96 2389.01,901.16 2392.33,899.36 2395.66,897.55 2398.99,895.72 2402.32,893.89 2405.64,892.04 2408.97,890.19 2412.30,888.32 2415.62,886.45 2418.95,884.56 2422.28,882.66 2425.61,880.75 2428.93,878.84 2432.26,876.91 2435.59,874.96 2438.91,873.01 2442.24,871.05 2445.57,869.07 2448.89,867.09 2452.22,865.09 2455.55,863.08 2458.88,861.06 2462.20,859.03 2465.53,856.99 2468.86,854.94 2472.18,852.87 2475.51,850.79 2478.84,848.70 2482.17,846.60 2485.49,844.49 2488.82,842.36 2492.15,840.22 2495.47,838.08 2498.80,835.91 2502.13,833.74 2505.45,831.55 2508.78,829.35 2512.11,827.14 2515.44,824.92 2518.76,822.68 2522.09,820.43 2525.42,818.17 2528.74,815.89 2532.07,813.61 2535.40,811.30 2538.73,808.99 2542.05,806.66 2545.38,804.32 2548.71,801.97 2552.03,799.60 2555.36,797.22 2558.69,794.83 2562.02,792.42 2565.34,790.00 2568.67,787.56 2572.00,785.11 2575.32,782.65 2578.65,780.17 2581.98,777.68 2585.30,775.18 2588.63,772.66 2591.96,770.12 2595.29,767.57 2598.61,765.01 2601.94,762.43 2605.27,759.84 2608.59,757.23 2611.92,754.61 2615.25,751.98 2618.58,749.32 2621.90,746.66 2625.23,743.97 2628.56,741.28 2631.88,738.57 2635.21,735.84 2638.54,733.09 2641.86,730.33 2645.19,727.56 2648.52,724.77 2651.85,721.96 2655.17,719.14 2658.50,716.30 2661.83,713.45 2665.15,710.58 2668.48,707.69 2671.81,704.79 2675.14,701.87 2678.46,698.93 2681.79,695.98 2685.12,693.01 2688.44,690.02 2691.77,687.02 2695.10,683.99 2698.42,680.96 2701.75,677.90 2705.08,674.83 2708.41,671.74 2711.73,668.63 2715.06,665.50 2718.39,662.36 2721.71,659.20 2725.04,656.02 2728.37,652.82 2731.70,649.61 2735.02,646.37 2738.35,643.12 2741.68,639.85 2745.00,636.56 2748.33,633.25 2751.66,629.92 2754.98,626.58 2758.31,623.21 2761.64,619.83 2764.97,616.43 2768.29,613.00 2771.62,609.56 2774.95,606.10 2778.27,602.62 2781.60,599.12 2784.93,595.60 2788.26,592.06 2791.58,588.49 2794.91,584.91 2798.24,581.31 2801.56,577.69 2804.89,574.05 2808.22,570.38 2811.55,566.70 2814.87,562.99 2818.20,559.27 2821.53,555.52 2824.85,551.75 2828.18,547.96 2831.51,544.15 2834.83,540.31 2838.16,536.46 2841.49,532.58 2844.82,528.68 2848.14,524.76 2851.47,520.81 2854.80,516.85 2858.12,512.86 2861.45,508.85 2864.78,504.81 2868.11,500.76 2871.43,496.68 2874.76,492.57 2878.09,488.44 2881.41,484.29 2884.74,480.12 2888.07,475.92 2891.39,471.70 2894.72,467.45 2898.05,463.18 2901.38,458.89 2904.70,454.57 2908.03,450.23 2911.36,445.86 2914.68,441.47 2918.01,437.05 2921.34,432.61 2924.67,428.14 2927.99,423.65 2931.32,419.13 2934.65,414.58 2937.97,410.01 2941.30,405.41 2944.63,400.79 2947.95,396.14 2951.28,391.47 2954.61,386.76 2957.94,382.04 2961.26,377.28 2964.59,372.50 2967.92,367.69 2971.24,362.85 2974.57,357.98 2977.90,353.09 2981.23,348.17 2984.55,343.22 2987.88,338.25 2991.21,333.24 2994.53,328.21 2997.86,323.15 3001.19,318.06 3004.52,312.94 3007.84,307.79 3011.17,302.61 3014.50,297.40 3017.82,292.16 3021.15,286.90 3024.48,281.60 3027.80,276.27 3031.13,270.92 3034.46,265.53 3037.79,260.11 3041.11,254.66 3044.44,249.18 3047.77,243.67 3051.09,238.13 3054.42,232.55 3057.75,226.95 3061.08,221.31 3064.40,215.64 3067.73,209.94 3071.06,204.20 3074.38,198.43 3077.71,192.63 3081.04,186.80 3084.36,180.94 3087.69,175.04 3091.02,169.10 3094.35,163.14 3097.67,157.14 3101.00,151.10" fill="none" stroke="#cd4727" stroke-width="8.3" stroke-linejoin="round"/>
<rect x="1768.3" y="22" width="10.9" height="1248.8" fill="#262626"/>
<rect x="3097.1" y="22" width="7.9" height="1248.8" fill="#262626"/>
<rect x="1773.75" y="17.1" width="1327.30" height="9.6" fill="#262626"/>
<rect x="1773.75" y="1265.4" width="1327.30" height="7.8" fill="#262626"/>
<rect x="1779.2" y="1057.83" width="9" height="7.5" fill="#262626"/>
<rect x="3088.1" y="1057.83" width="9" height="7.5" fill="#262626"/>
<rect x="1779.2" y="849.92" width="9" height="7.5" fill="#262626"/>
<rect x="3088.1" y="849.92" width="9" height="7.5" fill="#262626"/>
<rect x="1779.2" y="642.00" width="9" height="7.5" fill="#262626"/>
<rect x="3088.1" y="642.00" width="9" height="7.5" fill="#262626"/>
<rect x="1779.2" y="434.08" width="9" height="7.5" fill="#262626"/>
<rect x="3088.1" y="434.08" width="9" height="7.5" fill="#262626"/>
<rect x="1779.2" y="226.17" width="9" height="7.5" fill="#262626"/>
<rect x="3088.1" y="226.17" width="9" height="7.5" fill="#262626"/>
<rect x="1969.81" y="1261.4" width="8" height="4" fill="#262626"/>
<rect x="1969.81" y="26.7" width="8" height="3.5" fill="#262626"/>
<rect x="2086.69" y="1261.4" width="8" height="4" fill="#262626"/>
<rect x="2086.69" y="26.7" width="8" height="3.5" fill="#262626"/>
<rect x="2169.62" y="1261.4" width="8" height="4" fill="#262626"/>
<rect x="2169.62" y="26.7" width="8" height="3.5" fill="#262626"/>
<rect x="2233.94" y="1261.4" width="8" height="4" fill="#262626"/>
<rect x="2233.94" y="26.7" width="8" height="3.5" fill="#262626"/>
<rect x="2286.50" y="1261.4" width="8" height="4" fill="#262626"/>
<rect x="2286.50" y="26.7" width="8" height="3.5" fill="#262626"/>
<rect x="2330.93" y="1261.4" width="8" height="4" fill="#262626"/>
<rect x="2330.93" y="26.7" width="8" height="3.5" fill="#262626"/>
<rect x="2369.43" y="1261.4" width="8" height="4" fill="#262626"/>
<rect x="2369.43" y="26.7" width="8" height="3.5" fill="#262626"/>
<rect x="2403.38" y="1261.4" width="8" height="4" fill="#262626"/>
<rect x="2403.38" y="26.7" width="8" height="3.5" fill="#262626"/>
<rect x="2633.56" y="1261.4" width="8" height="4" fill="#262626"/>
<rect x="2633.56" y="26.7" width="8" height="3.5" fill="#262626"/>
<rect x="2750.44" y="1261.4" width="8" height="4" fill="#262626"/>
<rect x="2750.44" y="26.7" width="8" height="3.5" fill="#262626"/>
<rect x="2833.37" y="1261.4" width="8" height="4" fill="#262626"/>
<rect x="2833.37" y="26.7" width="8" height="3.5" fill="#262626"/>
<rect x="2897.69" y="1261.4" width="8" height="4" fill="#262626"/>
<rect x="2897.69" y="26.7" width="8" height="3.5" fill="#262626"/>
<rect x="2950.25" y="1261.4" width="8" height="4" fill="#262626"/>
<rect x="2950.25" y="26.7" width="8" height="3.5" fill="#262626"/>
<rect x="2994.68" y="1261.4" width="8" height="4" fill="#262626"/>
<rect x="2994.68" y="26.7" width="8" height="3.5" fill="#262626"/>
<rect x="3033.18" y="1261.4" width="8" height="4" fill="#262626"/>
<rect x="3033.18" y="26.7" width="8" height="3.5" fill="#262626"/>
<rect x="3067.13" y="1261.4" width="8" height="4" fill="#262626"/>
<rect x="3067.13" y="26.7" width="8" height="3.5" fill="#262626"/>
<rect x="2435.00" y="1255.9" width="7.5" height="9.5" fill="#262626"/>
<rect x="2435.00" y="26.7" width="7.5" height="8.1" fill="#262626"/>
<rect x="2873.00" y="45.75" width="207.20" height="152.3" fill="#fff" stroke="#262626" stroke-width="7.8" stroke-linejoin="bevel"/>
<rect x="2881.80" y="80.6" width="85.9" height="8" fill="#3570ba"/>
<rect x="2881.80" y="153.4" width="85.9" height="8.4" fill="#cd4727"/>
<text transform="translate(2973.52,107.75) scale(1.0320,1)" font-family="Liberation Sans" font-size="54.83" fill="#111">n=</text>
<path transform="translate(3042.19,67.50) scale(40.250,40.250)" fill="#111" d="M0.399,0V1H0.284V0.246L0.005,0.355V0.268C0.1,0.2 0.24,0.13 0.328,0Z"/>
<text transform="translate(2973.45,179.77) scale(0.9983,1)" font-family="Liberation Sans" font-size="57.70" fill="#111">n=3</text>
<text transform="translate(1721.09,1293.35) scale(0.9500,1)" font-family="Liberation Sans" font-size="64.97" fill="#262626">0</text>
<text transform="translate(1669.80,1085.43) scale(0.9500,1)" font-family="Liberation Sans" font-size="64.97" fill="#262626">0.5</text>
<path transform="translate(1727.00,832.27) scale(45.750,45.750)" fill="#262626" d="M0.399,0V1H0.284V0.246L0.005,0.355V0.268C0.1,0.2 0.24,0.13 0.328,0Z"/>
<path transform="translate(1674.25,624.50) scale(45.500,45.500)" fill="#262626" d="M0.399,0V1H0.284V0.246L0.005,0.355V0.268C0.1,0.2 0.24,0.13 0.328,0Z"/>
<text transform="translate(1703.01,669.35) scale(0.9684,1)" font-family="Liberation Sans" font-size="65.19" fill="#262626">.5</text>
<text transform="translate(1721.32,462.33) scale(0.9500,1)" font-family="Liberation Sans" font-size="65.90" fill="#262626">2</text>
<text transform="translate(1669.80,253.77) scale(0.9500,1)" font-family="Liberation Sans" font-size="64.97" fill="#262626">2.5</text>
<text transform="translate(1721.40,45.85) scale(0.9500,1)" font-family="Liberation Sans" font-size="64.97" fill="#262626">3</text>
<path transform="translate(1730.50,1324.00) scale(45.500,45.500)" fill="#262626" d="M0.399,0V1H0.284V0.246L0.005,0.355V0.268C0.1,0.2 0.24,0.13 0.328,0Z"/>
<text transform="translate(1759.59,1368.86) scale(0.9603,1)" font-family="Liberation Sans" font-size="64.27" fill="#262626">0</text>
<text transform="translate(1793.87,1338.50) scale(1.0348,1)" font-family="Liberation Sans" font-size="50.86" fill="#262626">2</text>
<path transform="translate(2394.25,1324.00) scale(45.500,45.500)" fill="#262626" d="M0.399,0V1H0.284V0.246L0.005,0.355V0.268C0.1,0.2 0.24,0.13 0.328,0Z"/>
<text transform="translate(2423.34,1368.86) scale(0.9603,1)" font-family="Liberation Sans" font-size="64.27" fill="#262626">0</text>
<text transform="translate(2458.33,1338.00) scale(1.0098,1)" font-family="Liberation Sans" font-size="50.14" fill="#262626">3</text>
<path transform="translate(3058.00,1324.00) scale(45.500,45.500)" fill="#262626" d="M0.399,0V1H0.284V0.246L0.005,0.355V0.268C0.1,0.2 0.24,0.13 0.328,0Z"/>
<text transform="translate(3087.09,1368.86) scale(0.9603,1)" font-family="Liberation Sans" font-size="64.27" fill="#262626">0</text>
<text transform="translate(3122.90,1338.50) scale(0.9229,1)" font-family="Liberation Sans" font-size="51.60" fill="#262626">4</text>
<text transform="translate(2148.99,1457.10) scale(0.9717,1)" font-family="Liberation Sans" font-size="70.49" fill="#262626">TE wire width (nm)</text>
<text transform="translate(1642.50,802.29) rotate(-90) scale(0.9676,1)" font-family="Liberation Sans" font-size="70.49" fill="#262626">NEP (nW)</text>
<text transform="translate(183.43,125.56) scale(1.0523,1)" font-family="Liberation Serif" font-size="77.18" fill="#111">(a)</text>
<text transform="translate(1811.53,129.91) scale(1.0440,1)" font-family="Liberation Serif" font-size="75.52" fill="#111">(b)</text>
<text transform="translate(259.87,927.08) scale(1.0320,1)" font-family="Liberation Serif" font-size="76.92" fill="#111">Target value</text>
</svg>
</body></html>
